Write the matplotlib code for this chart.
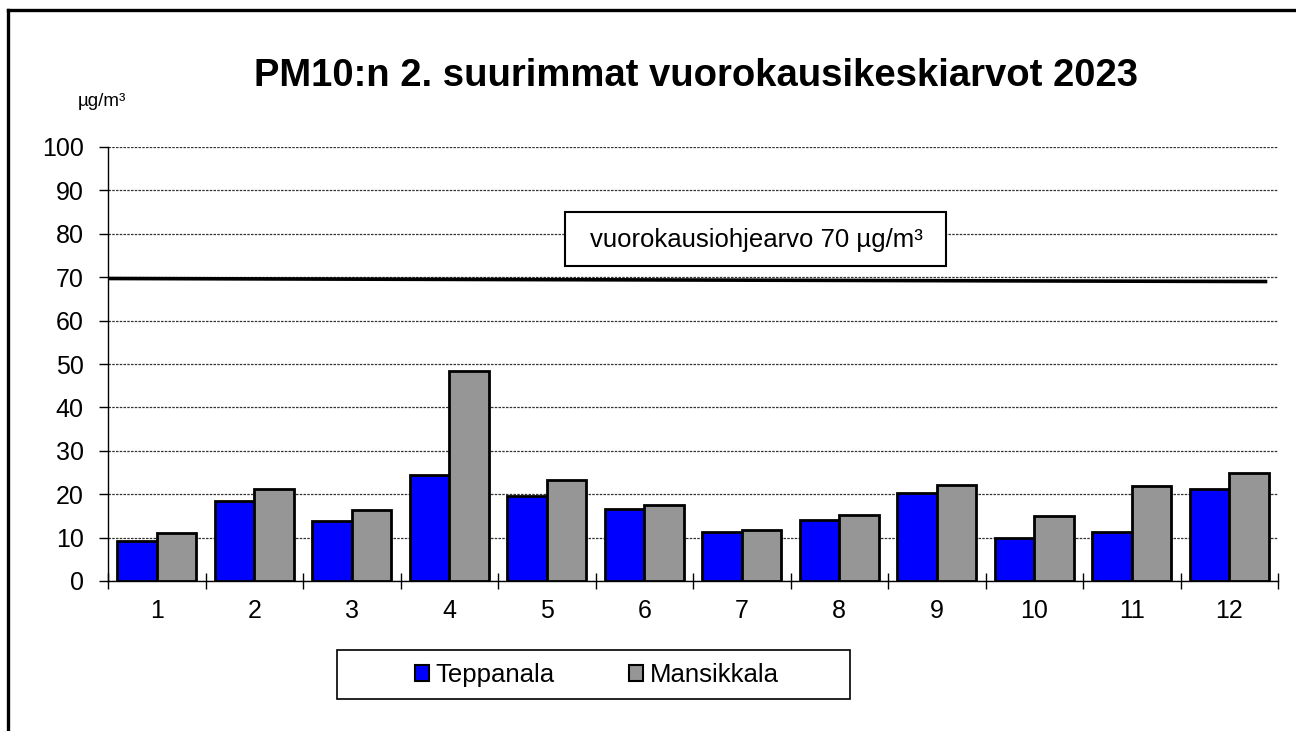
#!/usr/bin/env python3
# -*- coding: utf-8 -*-

import numpy as np
import matplotlib
matplotlib.use("Agg")
import matplotlib.pyplot as plt
from matplotlib.patches import Rectangle
from matplotlib.lines import Line2D

plt.rcParams["font.family"] = ["Liberation Sans", "DejaVu Sans"]

months = ["1", "2", "3", "4", "5", "6", "7", "8", "9", "10", "11", "12"]
teppanala = [9.3, 18.5, 13.8, 24.4, 19.7, 16.6, 11.4, 14.0, 20.2, 9.9, 11.4, 21.2]
mansikkala = [11.1, 21.2, 16.4, 48.4, 23.2, 17.6, 11.7, 15.3, 22.1, 15.0, 21.8, 24.9]
limit_start, limit_end = 69.7, 69.0
limit_label = "vuorokausiohjearvo 70 µg/m³"
title = "PM10:n 2. suurimmat vuorokausikeskiarvot 2023"

W, H = 1296, 731
fig = plt.figure(figsize=(W / 100, H / 100), dpi=100)
ax = fig.add_axes([108 / W, 150 / H, 1170 / W, 434 / H])

x = np.arange(len(months))
bw = 0.405
ax.bar(x - bw / 2, teppanala, bw, color="#0000ff", edgecolor="black", linewidth=2, label="Teppanala", zorder=3)
ax.bar(x + bw / 2, mansikkala, bw, color="#969696", edgecolor="black", linewidth=2, label="Mansikkala", zorder=3)

# guideline (drawn slightly sloped as in the original)
ax.plot([-0.5, 11.39], [limit_start, limit_end], color="black", lw=2.6, zorder=4, solid_capstyle="butt")

ax.set_xlim(-0.5, 11.5)
ax.set_ylim(0, 100)
ax.set_yticks(range(0, 101, 10))
ax.yaxis.grid(True, color="#333333", linestyle=(0, (2, 1)), linewidth=0.9)
ax.set_axisbelow(True)

ax.set_xticks(x)
ax.set_xticklabels(months, fontsize=18)
ax.set_xticks(np.arange(-0.5, 12, 1), minor=True)
ax.tick_params(axis="x", which="major", length=0, pad=13)
ax.tick_params(axis="x", which="minor", direction="inout", length=11, width=1)
ax.tick_params(axis="y", direction="out", length=6.5, width=1, labelsize=18, pad=11)

for s in ["top", "right"]:
    ax.spines[s].set_visible(False)
ax.spines["left"].set_linewidth(1)
ax.spines["bottom"].set_linewidth(1)

fig.text(696 / W, 1 - 76 / H, title, fontsize=27.5, fontweight="bold", ha="center", va="center")
fig.text(102 / W, 1 - 101 / H, "µg/m³", fontsize=13.5, ha="center", va="center")

# guideline label box
fig.patches.append(Rectangle((565 / W, 1 - 266 / H), 381 / W, 54 / H, transform=fig.transFigure,
                             facecolor="white", edgecolor="black", linewidth=1.5, zorder=5))
fig.text(756 / W, 1 - 240 / H, limit_label, fontsize=18.5, ha="center", va="center", zorder=6)

# legend box
fig.patches.append(Rectangle((337 / W, 1 - 699 / H), 513 / W, 49 / H, transform=fig.transFigure,
                             facecolor="white", edgecolor="black", linewidth=1.2, zorder=5))
leg = fig.legend(loc="center", bbox_to_anchor=(597 / W, 1 - 675 / H), ncol=2, frameon=False,
                 fontsize=18.5, handlelength=0.55, handleheight=0.55, handletextpad=0.25, columnspacing=2.9)
for h in leg.legend_handles:
    h.set_linewidth(1.5)

# outer frame
fig.add_artist(Line2D([8 / W, 8 / W], [0, 1 - 10 / H], color="black", lw=2.4, transform=fig.transFigure))
fig.add_artist(Line2D([8 / W, 1], [1 - 10 / H, 1 - 10 / H], color="black", lw=2.4, transform=fig.transFigure))

fig.savefig("out.png", dpi=100)
